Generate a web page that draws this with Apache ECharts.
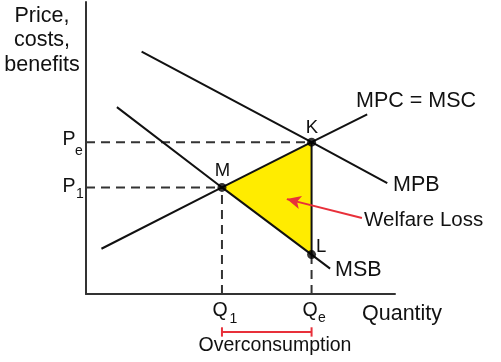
<!DOCTYPE html>
<html><head><meta charset="utf-8">
<script src="https://cdn.jsdelivr.net/npm/echarts@6/dist/echarts.min.js"></script>
<style>html,body{margin:0;padding:0;background:#fff}#c{width:501px;height:362px}</style>
</head><body><div id="c"></div>
<script>
// Curves (quantity, price) in arbitrary units
const mpcCurve = [[0.5, 1.55], [9.1, 6.15]];   // MPC = MSC
const mpbCurve = [[1.8, 8.3], [9.75, 3.8]];    // MPB
const msbCurve = [[1.0, 6.4], [7.9, 0.87]];    // MSB
// Key points
const pointNames = ['M', 'K', 'L'];
const pointM = [4.4, 3.65];
const pointK = [7.3, 5.2];
const pointL = [7.3, 1.35];
// Annotation arrow (tail -> head) and overconsumption bracket level
const arrowTail = [8.93, 2.6];
const arrowHead = [6.5, 3.25];
const bracketLevel = -1.3;
const bracketTickHalf = 0.16;

const FONT = '"Liberation Sans", Arial, sans-serif';
const INK = '#111';
const RED = '#e8303a';

const chart = echarts.init(document.getElementById('c'), null, {renderer: 'canvas'});

function dashed(data) {
  return {type: 'line', data, symbol: 'none', silent: true, clip: false,
    lineStyle: {color: '#333', width: 2, type: [9, 6]}, z: 2};
}
function solid(data, color) {
  return {type: 'line', data, symbol: 'none', silent: true, clip: false,
    lineStyle: {color: color || INK, width: 2}, z: 4};
}
function txt(text, x, y, size, align) {
  return {type: 'text', x, y, silent: true, z: 100,
    style: {text, fill: INK, font: size + 'px ' + FONT, textAlign: align || 'left', textVerticalAlign: 'middle'}};
}

const option = {
  animation: false,
  backgroundColor: '#fff',
  grid: {left: 86, right: 106, top: 2, bottom: 68},
  xAxis: {type: 'value', min: 0, max: 10, axisLine: {show: true, onZero: false, lineStyle: {color: '#333', width: 2}},
    axisTick: {show: false}, axisLabel: {show: false}, splitLine: {show: false}},
  yAxis: {type: 'value', min: 0, max: 10, axisLine: {show: true, onZero: false, lineStyle: {color: '#333', width: 2}},
    axisTick: {show: false}, axisLabel: {show: false}, splitLine: {show: false}},
  series: [
    {
      type: 'custom', silent: true, z: 1, data: [0],
      renderItem: function (params, api) {
        const pts = [pointM, pointK, pointL].map(p => api.coord(p));
        return {type: 'polygon', shape: {points: pts}, style: {fill: '#ffec00'}};
      }
    },
    dashed([[0, pointK[1]], pointK]),
    dashed([[0, pointM[1]], pointM]),
    dashed([[pointM[0], 0], pointM]),
    dashed([[pointL[0], 0], pointL]),
    solid(mpcCurve.slice(0, 1).concat([pointM, pointK]).concat(mpcCurve.slice(1))),
    solid(mpbCurve.slice(0, 1).concat([pointK]).concat(mpbCurve.slice(1))),
    solid(msbCurve.slice(0, 1).concat([pointM, pointL]).concat(msbCurve.slice(1))),
    solid([pointK, pointL]),
    solid([[pointM[0], bracketLevel], [pointK[0], bracketLevel]], RED),
    solid([[pointM[0], bracketLevel - bracketTickHalf], [pointM[0], bracketLevel + bracketTickHalf]], RED),
    solid([[pointK[0], bracketLevel - bracketTickHalf], [pointK[0], bracketLevel + bracketTickHalf]], RED),
    {
      type: 'scatter', data: [pointM, pointK, pointL], symbolSize: 9, z: 6, silent: true,
      itemStyle: {color: '#000'}
    },
    {
      type: 'line', data: [], silent: true, clip: false,
      markLine: {
        silent: true, animation: false, symbolSize: [0, 0],
        label: {show: false},
        lineStyle: {color: RED, width: 2, type: 'solid'},
        data: [
          [{coord: arrowTail, symbol: 'none'}, {coord: arrowHead, symbol: 'arrow', symbolSize: [10, 14]}]
        ]
      }
    }
  ],
  graphic: [
    txt('Price,', 42, 16, 21.5, 'center'),
    txt('costs,', 42, 40, 21.5, 'center'),
    txt('benefits', 42, 65, 21.5, 'center'),
    txt('MPC = MSC', 356, 101, 21.5),
    txt('MPB', 393, 185, 21.5),
    txt('Welfare Loss', 364, 220, 20.5),
    txt('MSB', 335, 270, 21.5),
    txt('Quantity', 362, 314, 21.5),
    txt('Overconsumption', 275, 346, 19.5, 'center'),
    txt('K', 312, 128, 18.5, 'center'),
    txt('M', 222.5, 171, 18.5, 'center'),
    txt('L', 316, 247, 18.5),
    txt('P', 62.5, 140, 19.5),
    txt('e', 75, 151, 14),
    txt('P', 62.5, 187, 19.5),
    txt('1', 76, 194.5, 14),
    txt('Q', 212.5, 311, 19.5),
    txt('1', 229.5, 319.5, 14),
    txt('Q', 302.5, 311, 19.5),
    txt('e', 318, 318.5, 14)
  ]
};
chart.setOption(option);
</script></body></html>
